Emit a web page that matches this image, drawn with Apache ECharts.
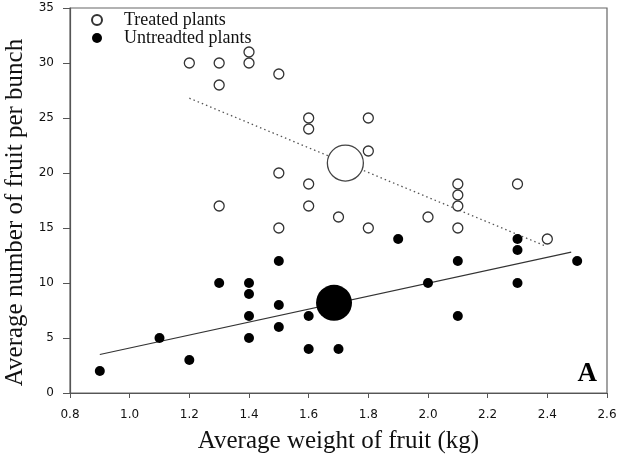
<!DOCTYPE html>
<html><head><meta charset="utf-8">
<script src="https://cdn.jsdelivr.net/npm/echarts@6/dist/echarts.min.js"></script>
<style>html,body{margin:0;padding:0;background:#fff}#c{width:617px;height:466px}</style>
</head><body><div id="c"></div>
<script>
var treated = [[1.2,30],[1.3,30],[1.3,28],[1.3,17],[1.4,31],[1.4,30],[1.5,29],[1.5,20],[1.5,15],[1.6,25],[1.6,24],[1.6,19],[1.6,17],[1.7,16],[1.8,25],[1.8,22],[1.8,15],[2.0,16],[2.1,19],[2.1,18],[2.1,17],[2.1,15],[2.3,19],[2.4,14]];
var untreated = [[0.9,2],[1.1,5],[1.2,3],[1.3,10],[1.4,10],[1.4,9],[1.4,7],[1.4,5],[1.5,12],[1.5,8],[1.5,6],[1.6,7],[1.6,4],[1.7,4],[1.9,14],[2.0,10],[2.1,12],[2.1,7],[2.3,14],[2.3,13],[2.3,10],[2.5,12]];
var treatedMean = [[1.723,20.9]];
var untreatedMean = [[1.685,8.2]];
var treatedFit = [[1.2,26.8],[2.39,13.4]];
var untreatedFit = [[0.9,3.5],[2.48,12.8]];
var xTicks = [0.8,1.0,1.2,1.4,1.6,1.8,2.0,2.2,2.4,2.6];
var yTicks = [0,5,10,15,20,25,30,35];

var serif = '"Liberation Serif","DejaVu Serif",serif';
var sans = '"DejaVu Sans",sans-serif';
var chart = echarts.init(document.getElementById('c'));
chart.setOption({
  animation:false,
  textStyle:{fontFamily:serif},
  grid:{left:70,right:10,top:8,bottom:73,outerBoundsMode:'none',containLabel:false,show:true,borderColor:'#666',borderWidth:1.2},
  legend:{
    orient:'vertical',left:86,top:6,itemWidth:10,itemHeight:10,itemGap:0,
    textStyle:{fontFamily:serif,fontSize:18,lineHeight:18,color:'#111',padding:[0,0,0,17]},
    data:[{name:'Treated plants',icon:'circle'},{name:'Untreadted plants',icon:'circle'}]
  },
  xAxis:{
    type:'value',min:xTicks[0],max:xTicks[xTicks.length-1],interval:0.2,
    name:'Average weight of fruit (kg)',nameLocation:'middle',nameGap:36,
    nameTextStyle:{fontFamily:serif,fontSize:25,color:'#111'},
    axisLine:{show:true,lineStyle:{color:'#555',width:1.2}},
    axisTick:{show:true,inside:false,length:5,lineStyle:{color:'#555'}},
    axisLabel:{fontFamily:sans,fontSize:12,color:'#111',margin:16,formatter:function(v){return v.toFixed(1);}},
    splitLine:{show:false}
  },
  yAxis:{
    type:'value',min:yTicks[0],max:yTicks[yTicks.length-1],interval:5,
    name:'Average number of fruit per bunch',nameLocation:'middle',nameGap:41,
    nameTextStyle:{fontFamily:serif,fontSize:25,color:'#111',padding:[0,24,0,0]},
    axisLine:{show:true,lineStyle:{color:'#555',width:1.2}},
    axisTick:{show:true,inside:false,length:7,lineStyle:{color:'#555'}},
    axisLabel:{fontFamily:sans,fontSize:12,color:'#111',margin:16},
    splitLine:{show:false}
  },
  graphic:[{type:'text',right:20,bottom:78,style:{text:'A',font:'bold 27px '+serif,fill:'#000'}}],
  series:[
    {type:'line',data:treatedFit,symbol:'none',silent:true,z:1,lineStyle:{color:'#555',width:1.3,type:[1.5,3]}},
    {type:'line',data:untreatedFit,symbol:'none',silent:true,z:1,lineStyle:{color:'#333',width:1.2}},
    {name:'Treated plants',type:'scatter',data:treated,symbolSize:10,z:3,itemStyle:{color:'#fff',borderColor:'#333',borderWidth:1.3,opacity:1}},
    {name:'Untreadted plants',type:'scatter',data:untreated,symbolSize:10,z:3,itemStyle:{color:'#000',opacity:1}},
    {type:'scatter',data:treatedMean,symbolSize:36,z:4,itemStyle:{color:'#fff',borderColor:'#444',borderWidth:1.3,opacity:1}},
    {type:'scatter',data:untreatedMean,symbolSize:36,z:4,itemStyle:{color:'#000',opacity:1}}
  ]
});
</script></body></html>
